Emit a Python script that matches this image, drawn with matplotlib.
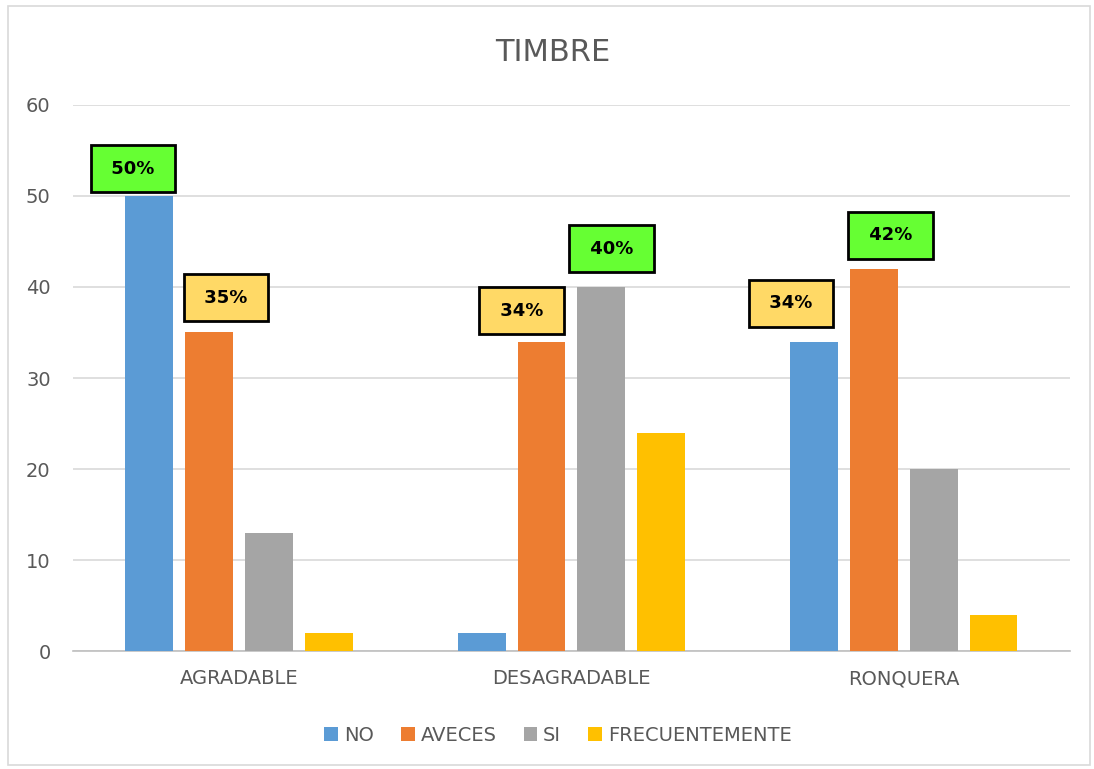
import numpy as np
import matplotlib.pyplot as plt
from matplotlib.patches import Rectangle

categorias = ['AGRADABLE', 'DESAGRADABLE', 'RONQUERA']
series = ['NO', 'AVECES', 'SI', 'FRECUENTEMENTE']
no = [50, 2, 34]
aveces = [35, 34, 42]
si = [13, 40, 20]
frecuente = [2, 24, 4]
colores = ['#5B9BD5', '#ED7D31', '#A5A5A5', '#FFC000']

# etiquetas: texto, posicion (x, y) en datos, color del recuadro
etiquetas = ['50%', '35%', '34%', '40%', '34%', '42%']
etq_x = [-0.32, -0.04, 0.85, 1.12, 1.66, 1.96]
etq_y = [53.0, 38.8, 37.4, 44.2, 38.2, 45.7]
etq_color = ['#66FF33', '#FFD966', '#FFD966', '#66FF33', '#FFD966', '#66FF33']

gris = '#595959'

fig = plt.figure(figsize=(10.94, 7.69), dpi=100)
ax = fig.add_axes([0.0667, 0.1534, 0.9113, 0.7101])

x = np.arange(len(categorias))
ancho = 0.144
paso = 0.18
valores = [no, aveces, si, frecuente]
for i, (nombre, vals) in enumerate(zip(series, valores)):
    ax.bar(x + (i - 1.5) * paso, vals, ancho, color=colores[i], label=nombre, zorder=3)

for t, ex, ey, c in zip(etiquetas, etq_x, etq_y, etq_color):
    ax.text(ex, ey, ' ' + t + ' ', ha='center', va='center', fontsize=13, fontweight='bold',
            color='black', zorder=5,
            bbox=dict(boxstyle='square,pad=0.8', fc=c, ec='black', lw=2))

ax.set_xlim(-0.5, 2.5)
ax.set_ylim(0, 60)
ax.set_yticks(range(0, 61, 10))
ax.set_xticks(x)
ax.set_xticklabels(categorias)
ax.yaxis.grid(True, color='#D9D9D9', lw=1.2, zorder=0)
ax.tick_params(axis='both', length=0, colors=gris, labelsize=14)
ax.tick_params(axis='x', pad=13)
ax.tick_params(axis='y', pad=16)
for s in ['top', 'right', 'left']:
    ax.spines[s].set_visible(False)
ax.spines['bottom'].set_color('#BFBFBF')
ax.spines['bottom'].set_linewidth(1.2)

fig.text(0.505, 0.932, 'TIMBRE', ha='center', va='center', fontsize=22, color=gris)

leg = fig.legend(loc='center', bbox_to_anchor=(0.51, 0.044), ncol=4, frameon=False,
                 fontsize=14, handlelength=0.7, handleheight=0.7, handletextpad=0.3,
                 columnspacing=1.4)
for t in leg.get_texts():
    t.set_color(gris)

fig.patches.append(Rectangle((8 / 1094, 4 / 769), 1082 / 1094, 759 / 769, transform=fig.transFigure,
                             fill=False, ec='#D9D9D9', lw=1.2))

fig.savefig('out.png', dpi=100)
